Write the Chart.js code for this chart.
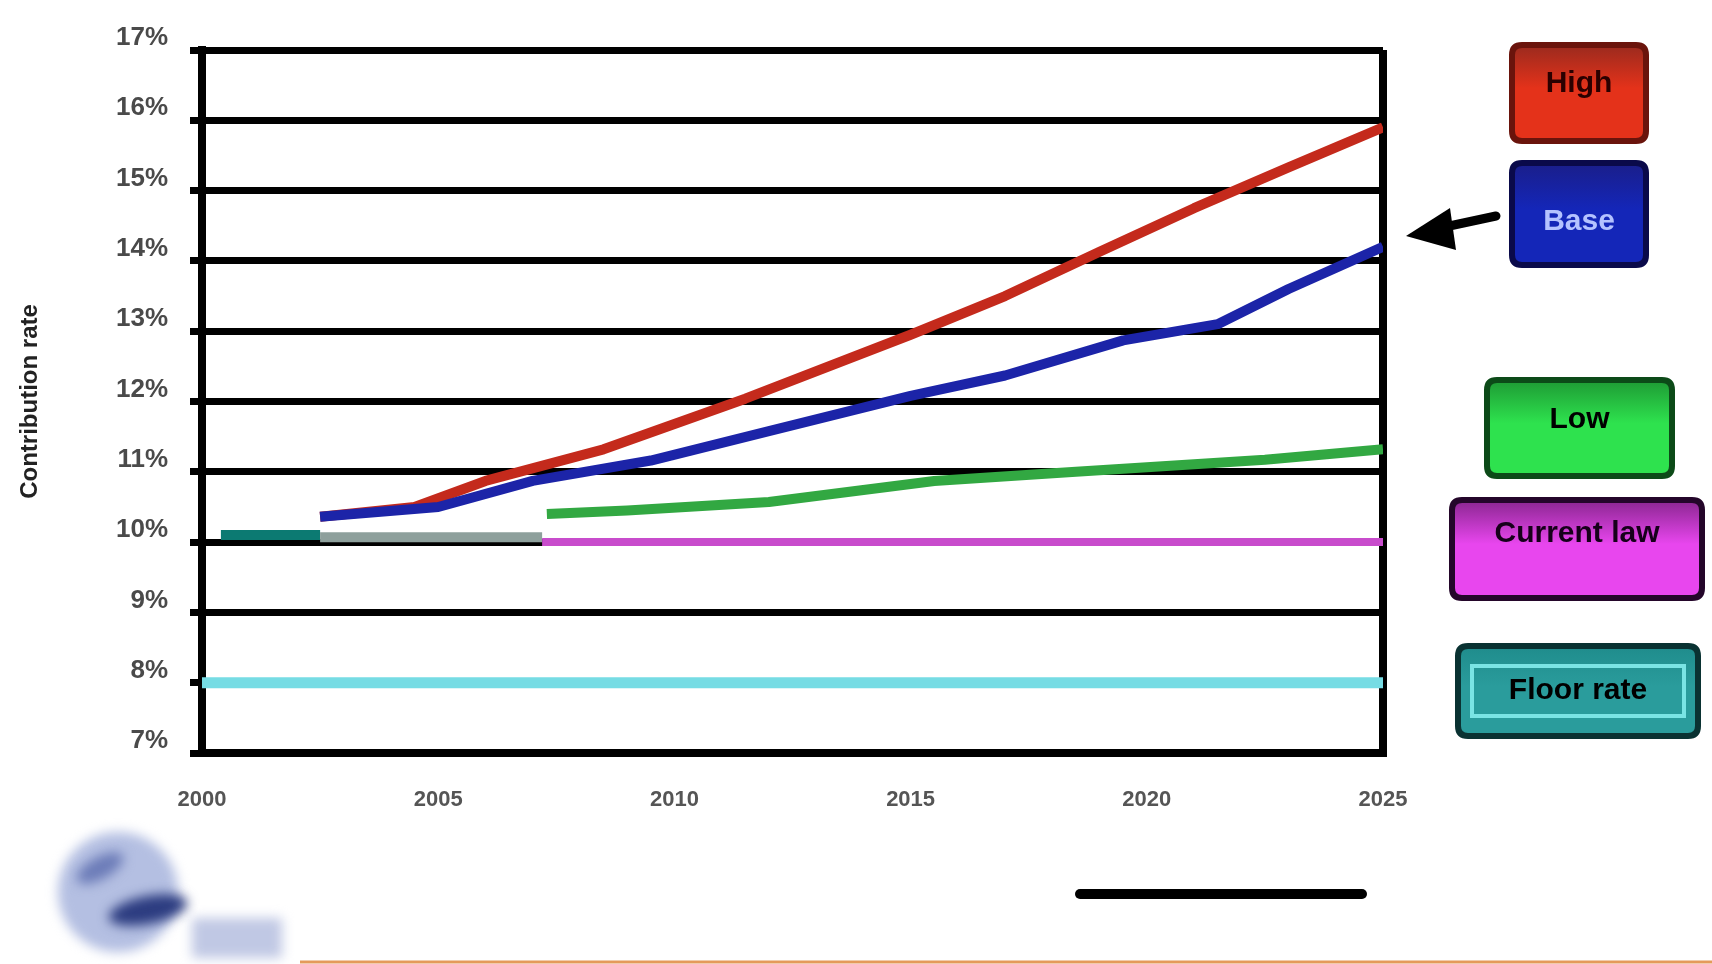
<!DOCTYPE html>
<html>
<head>
<meta charset="utf-8">
<script src="https://cdn.jsdelivr.net/npm/chart.js@4"></script>
<style>
  html, body { margin: 0; padding: 0; background: #ffffff; }
  #wrap { position: relative; width: 1712px; height: 964px; }
  canvas { display: block; }
</style>
</head>
<body>
<div id="wrap"><canvas id="rates" width="1712" height="964"></canvas></div>
<script>
// ---- values ----
const xTickYears = [2000, 2005, 2010, 2015, 2020, 2025];
const yTickMin = 7;
const yTickMax = 17;

const highYears  = [2002.5, 2004.5, 2006, 2008.5, 2011.5, 2015, 2017, 2019, 2021, 2023, 2025];
const highRates  = [10.36, 10.5, 10.87, 11.32, 12.04, 12.95, 13.5, 14.13, 14.75, 15.33, 15.9];

const baseYears  = [2002.5, 2005, 2007, 2009.5, 2012, 2015, 2017, 2019.5, 2021.5, 2023, 2025];
const baseRates  = [10.36, 10.5, 10.87, 11.16, 11.58, 12.08, 12.37, 12.87, 13.1, 13.6, 14.2];

const lowYears   = [2007.3, 2009, 2012, 2015.5, 2018.5, 2022.5, 2025];
const lowRates   = [10.4, 10.45, 10.57, 10.87, 11.0, 11.17, 11.32];

const lawYears   = [2007.2, 2025];
const lawRates   = [10.0, 10.0];

const bridgeYears = [2002.5, 2007.2];
const bridgeRates = [10.07, 10.07];

const pastYears  = [2000.4, 2002.5];
const pastRates  = [10.1, 10.1];

const floorYears = [2000, 2025];
const floorRates = [8.0, 8.0];

const keyLabels = ['High', 'Base', 'Low', 'Current law', 'Floor rate'];
const yAxisTitle = 'Contribution rate';

// ---- helpers ----
const pairs = (xs, ys) => xs.map((x, i) => ({ x: x, y: ys[i] }));
const FONT = '"Liberation Sans", Arial, sans-serif';

function lineSet(label, xs, ys, color, width) {
  return {
    label: label,
    data: pairs(xs, ys),
    borderColor: color,
    backgroundColor: color,
    borderWidth: width,
    pointRadius: 0,
    tension: 0,
    fill: false,
    borderCapStyle: 'butt',
    borderJoinStyle: 'round'
  };
}

// ---- side keys, pointer arrow, footer marks ----
const keyBoxes = [
  { x: 1512, y: 45,  w: 134, h: 96,  top: '#9a2a1e', bottom: '#e4321a', stroke: '#6a140c', text: '#2a0000', ty: 84 },
  { x: 1512, y: 163, w: 134, h: 102, top: '#1a1e8a', bottom: '#1426b8', stroke: '#0a0a4a', text: '#b4c2ff', ty: 222 },
  { x: 1487, y: 380, w: 185, h: 96,  top: '#1e9a34', bottom: '#2ee24e', stroke: '#0c4a18', text: '#000000', ty: 420 },
  { x: 1452, y: 500, w: 250, h: 98,  top: '#8a2690', bottom: '#e846ee', stroke: '#24062a', text: '#16001a', ty: 534 },
  { x: 1458, y: 646, w: 240, h: 90,  top: '#1f8c8c', bottom: '#2a9c9c', stroke: '#0a3232', text: '#000000', ty: 691, inner: '#7ae4e4' }
];

function roundRect(ctx, x, y, w, h, r) {
  ctx.beginPath();
  ctx.moveTo(x + r, y);
  ctx.lineTo(x + w - r, y);
  ctx.quadraticCurveTo(x + w, y, x + w, y + r);
  ctx.lineTo(x + w, y + h - r);
  ctx.quadraticCurveTo(x + w, y + h, x + w - r, y + h);
  ctx.lineTo(x + r, y + h);
  ctx.quadraticCurveTo(x, y + h, x, y + h - r);
  ctx.lineTo(x, y + r);
  ctx.quadraticCurveTo(x, y, x + r, y);
  ctx.closePath();
}

const sideKeys = {
  id: 'sideKeys',
  afterDraw(chart) {
    const ctx = chart.ctx;
    ctx.save();
    keyBoxes.forEach((b, i) => {
      const g = ctx.createLinearGradient(0, b.y, 0, b.y + b.h);
      g.addColorStop(0, b.top);
      g.addColorStop(0.45, b.bottom);
      g.addColorStop(1, b.bottom);
      roundRect(ctx, b.x, b.y, b.w, b.h, 10);
      ctx.fillStyle = g;
      ctx.fill();
      ctx.lineWidth = 6;
      ctx.strokeStyle = b.stroke;
      ctx.stroke();
      if (b.inner) {
        ctx.lineWidth = 4;
        ctx.strokeStyle = b.inner;
        ctx.strokeRect(b.x + 14, b.y + 20, b.w - 28, b.h - 40);
      }
      ctx.fillStyle = b.text;
      ctx.font = 'bold 30px ' + FONT;
      ctx.textAlign = 'center';
      ctx.textBaseline = 'middle';
      ctx.fillText(keyLabels[i], b.x + b.w / 2, b.ty);
    });

    // pointer toward the end of the base line
    ctx.strokeStyle = '#000';
    ctx.fillStyle = '#000';
    ctx.lineWidth = 9;
    ctx.lineCap = 'round';
    ctx.beginPath();
    ctx.moveTo(1496, 216);
    ctx.lineTo(1440, 228);
    ctx.stroke();
    ctx.beginPath();
    ctx.moveTo(1406, 236);
    ctx.lineTo(1450, 208);
    ctx.lineTo(1456, 250);
    ctx.closePath();
    ctx.fill();

    // underline mark below the plot
    ctx.lineWidth = 10;
    ctx.beginPath();
    ctx.moveTo(1080, 894);
    ctx.lineTo(1362, 894);
    ctx.stroke();

    // footer rule
    ctx.lineCap = 'butt';
    ctx.strokeStyle = '#e49a5a';
    ctx.lineWidth = 3;
    ctx.beginPath();
    ctx.moveTo(300, 962);
    ctx.lineTo(1712, 962);
    ctx.stroke();

    // emblem in the lower left corner
    ctx.filter = 'blur(6px)';
    ctx.fillStyle = '#b4bfe2';
    ctx.beginPath();
    ctx.arc(118, 892, 60, 0, Math.PI * 2);
    ctx.fill();
    ctx.fillStyle = '#2c3c80';
    ctx.beginPath();
    ctx.ellipse(148, 910, 40, 14, -0.2, 0, Math.PI * 2);
    ctx.fill();
    ctx.fillStyle = '#6c7cb8';
    ctx.beginPath();
    ctx.ellipse(100, 868, 26, 11, -0.5, 0, Math.PI * 2);
    ctx.fill();
    ctx.fillStyle = '#c0c8e4';
    ctx.fillRect(192, 918, 90, 40);
    ctx.filter = 'none';
    ctx.restore();
  }
};

const datasets = [
  lineSet('Floor rate', floorYears, floorRates, '#76dce4', 11),
  lineSet('Current law', lawYears, lawRates, '#c84ccc', 8),
  lineSet('Transition', bridgeYears, bridgeRates, '#8ea09c', 10),
  lineSet('Actual', pastYears, pastRates, '#0c7a72', 10),
  lineSet('Low', lowYears, lowRates, '#32a842', 10),
  lineSet('Base', baseYears, baseRates, '#1c24a8', 10),
  lineSet('High', highYears, highRates, '#c42a1c', 10)
];

new Chart(document.getElementById('rates'), {
  type: 'line',
  data: { datasets: datasets },
  options: {
    responsive: false,
    animation: false,
    devicePixelRatio: 1,
    layout: { padding: { left: 0, top: 50, right: 329, bottom: 0 } },
    plugins: {
      legend: { display: false },
      tooltip: { enabled: false }
    },
    scales: {
      x: {
        type: 'linear',
        min: xTickYears[0],
        max: xTickYears[xTickYears.length - 1],
        afterBuildTicks(scale) {
          scale.ticks = xTickYears.map(v => ({ value: v }));
        },
        afterFit(scale) {
          scale.height = 211;
          scale.paddingLeft = 0;
          scale.paddingRight = 0;
        },
        border: { display: true, color: '#000', width: 8 },
        grid: {
          drawTicks: false,
          lineWidth: 8,
          color: ctx => (ctx.tick && ctx.tick.value === xTickYears[xTickYears.length - 1]) ? '#000' : 'rgba(0,0,0,0)'
        },
        ticks: {
          padding: 34,
          maxRotation: 0,
          color: '#555',
          font: { family: FONT, size: 22, weight: 'bold' },
          callback: v => String(v)
        }
      },
      y: {
        type: 'linear',
        min: yTickMin,
        max: yTickMax,
        afterFit(scale) {
          scale.width = 202;
          scale.paddingTop = 0;
          scale.paddingBottom = 0;
        },
        border: { display: true, color: '#000', width: 8 },
        grid: { color: '#000', lineWidth: 7, tickLength: 12, drawTicks: true },
        ticks: {
          stepSize: 1,
          padding: 22,
          labelOffset: -12,
          color: '#4a4a4a',
          font: { family: FONT, size: 26, weight: 'bold' },
          callback: v => v + '%'
        },
        title: {
          display: true,
          text: yAxisTitle,
          color: '#222',
          font: { family: FONT, size: 24, weight: 'bold' },
          padding: { top: 16, bottom: 0 }
        }
      }
    }
  },
  plugins: [sideKeys]
});
</script>
</body>
</html>
